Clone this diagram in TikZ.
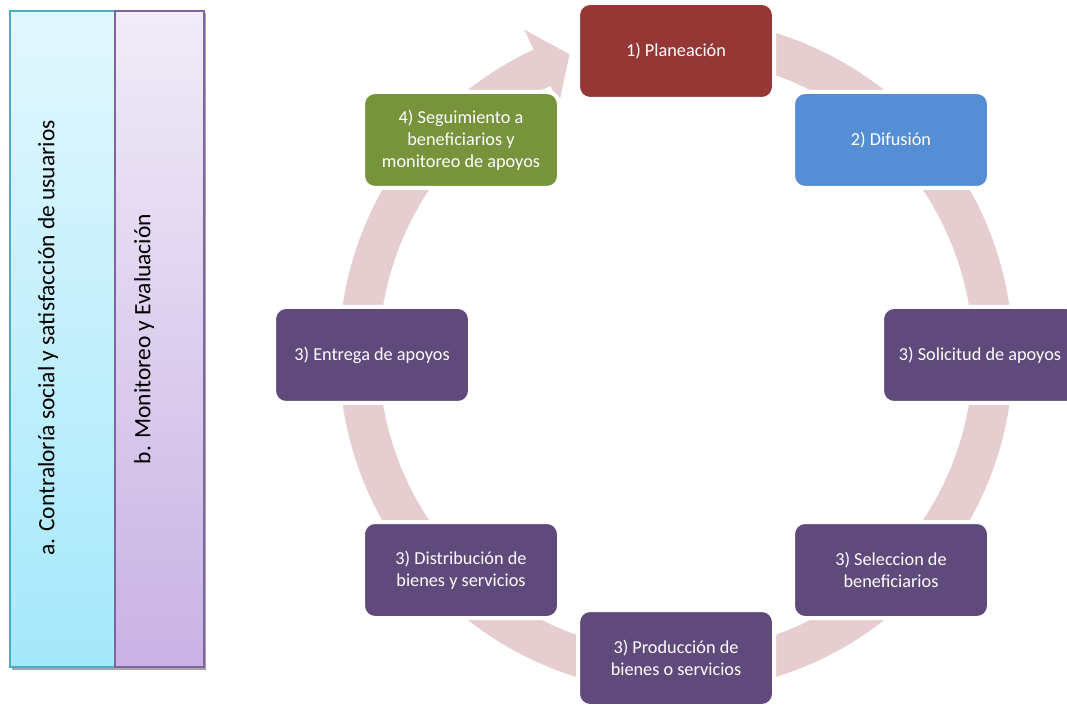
\documentclass[tikz,border=0pt]{standalone}
\usepackage{fontspec}
\setmainfont{Carlito}
\usetikzlibrary{calc}

\definecolor{ringpink}{HTML}{E6CDCF}
\definecolor{planred}{HTML}{953735}
\definecolor{difblue}{HTML}{558ED5}
\definecolor{segreen}{HTML}{77933C}
\definecolor{procpurple}{HTML}{604A7B}
\definecolor{barAtop}{HTML}{E2F7FD}
\definecolor{barAbot}{HTML}{A5E8FB}
\definecolor{barAline}{HTML}{4BACC6}
\definecolor{barBtop}{HTML}{F1ECF8}
\definecolor{barBbot}{HTML}{C9B2E4}
\definecolor{barBline}{HTML}{8064A2}

\begin{document}
\begin{tikzpicture}[x=0.75pt,y=0.75pt,
	stage/.style={rounded corners=9pt,draw=white,line width=3pt,
		minimum width=147pt,minimum height=72pt,inner sep=0pt,
		align=center,text=white,font=\fontsize{13.7}{16.4}\selectfont},
	bartext/.style={rotate=90,font=\fontsize{17.6}{21}\selectfont}]
\clip (0,0) rectangle (1067,704);
% side bars
\fill[black!35] (12,34) rectangle (206,691);
\draw[barAline,line width=1.5pt,top color=barAtop,bottom color=barAbot] (10,37) rectangle (115,693);
\draw[barBline,line width=1.5pt,top color=barBtop,bottom color=barBbot] (115,37) rectangle (204,693);
\node[bartext] (barA) at (48,366) {a. Contraloría social y satisfacción de usuarios};
\node[bartext] (barB) at (144,365) {b. Monitoreo y Evaluación};
% cycle arrow
\begin{scope}[shift={(676,349)}]
\fill[ringpink] (100:337) arc[start angle=100,end angle=-245,radius=337]
	-- (115:359) -- (109.5:319) -- (115:277) -- (115:297)
	arc[start angle=-245,end angle=100,radius=297] -- cycle;
\end{scope}
% stages
\node[stage,fill=planred] (plan) at (676,653) {1) Planeación};
\node[stage,fill=difblue] (difu) at (891,564) {2) Difusión};
\node[stage,fill=procpurple] (soli) at (980,349) {3) Solicitud de apoyos};
\node[stage,fill=procpurple] (sele) at (891,134) {3) Seleccion de\\beneficiarios};
\node[stage,fill=procpurple] (prod) at (676,46) {3) Producción de\\bienes o servicios};
\node[stage,fill=procpurple] (dist) at (461,134) {3) Distribución de\\bienes y servicios};
\node[stage,fill=procpurple] (entr) at (372,349) {3) Entrega de apoyos};
\node[stage,fill=segreen] (segu) at (461,564) {4) Seguimiento a\\beneficiarios y\\monitoreo de apoyos};
\end{tikzpicture}
\end{document}
